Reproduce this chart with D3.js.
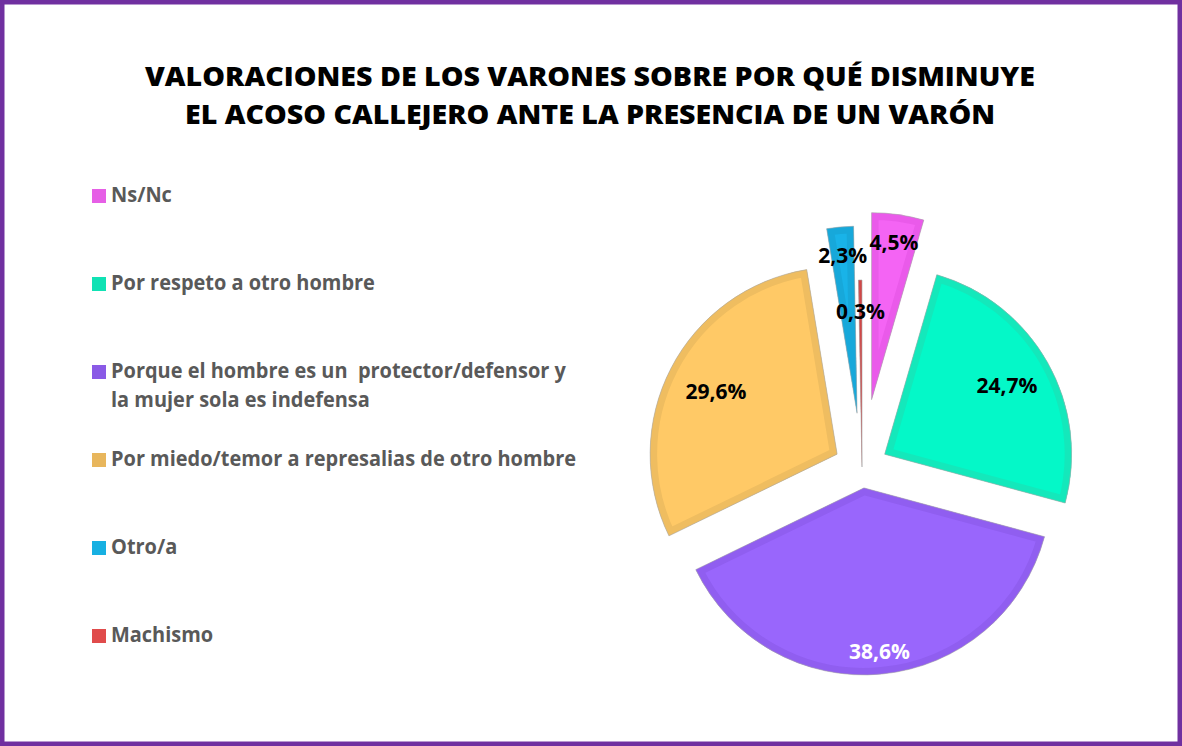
<!DOCTYPE html>
<html>
<head>
<meta charset="utf-8">
<script src="https://cdn.jsdelivr.net/npm/d3@7"></script>
<style>
  html, body { margin: 0; padding: 0; background: #fff; }
  svg { display: block; font-family: "Open Sans", "Noto Sans", sans-serif; }
</style>
</head>
<body>
<svg id="chart" width="1182" height="746"></svg>
<script>
'use strict'

// data
const titleLines = [
  "VALORACIONES DE LOS VARONES SOBRE POR QUÉ DISMINUYE",
  "EL ACOSO CALLEJERO ANTE LA PRESENCIA DE UN VARÓN"
]
const categories = [
  "Ns/Nc",
  "Por respeto a otro hombre",
  "Porque el hombre es un  protector/defensor y\nla mujer sola es indefensa",
  "Por miedo/temor a represalias de otro hombre",
  "Otro/a",
  "Machismo"
]
const values = [4.5, 24.7, 38.6, 29.6, 2.3, 0.3]

// look of each slice
const sliceColors = ["#f464f4", "#04f8c8", "#9966fc", "#ffc966", "#19b3e8", "#e05050"]
const bandColors  = ["#ea5aea", "#14e8bb", "#905ef0", "#efbd60", "#17a8da", "#d04848"]
const swatchColors = ["#e65fe6", "#10e2b4", "#8a5ae6", "#e8b65c", "#17b0e2", "#e04b4b"]
const explode = [68, 26, 21, 28, 54, 0]
const labelRatio = [0.85, 0.75, 0.88, 0.73, 0.85, 0.83]
const labelFill = ["#000", "#000", "#fff", "#000", "#000", "#000"]

const svg = d3.select("#chart")
const W = 1182, H = 746

// purple frame
svg.append("rect")
  .attr("x", 2.25).attr("y", 2.25)
  .attr("width", W - 4.5).attr("height", H - 4.5)
  .attr("fill", "#fff")
  .attr("stroke", "#7030a0")
  .attr("stroke-width", 4.5)

// title
const titleY = [86, 124]
const titleW = [890, 810]
svg.selectAll("text.title")
  .data(titleLines)
  .join("text")
  .attr("class", "title")
  .attr("x", 590)
  .attr("y", (d, i) => titleY[i])
  .attr("text-anchor", "middle")
  .attr("font-size", 26)
  .attr("font-weight", 800)
  .attr("fill", "#000")
  .attr("textLength", (d, i) => titleW[i])
  .attr("lengthAdjust", "spacingAndGlyphs")
  .text(d => d)

// legend
const legY = d3.scalePoint().domain(categories).range([202, 642])
const leg = svg.append("g")
const items = leg.selectAll("g")
  .data(categories)
  .join("g")
  .attr("transform", d => `translate(0,${legY(d)})`)

items.append("rect")
  .attr("x", 92).attr("y", -13)
  .attr("width", 14).attr("height", 14)
  .attr("fill", (d, i) => swatchColors[i])

const legK = 0.95
items.each(function (d) {
  const g = d3.select(this)
  d.split("\n").forEach((line, j) => {
    const t = g.append("text")
      .attr("x", 111)
      .attr("y", j * 29)
      .attr("font-size", 21)
      .attr("font-weight", 700)
      .attr("fill", "#595959")
      .style("white-space", "pre")
      .text(line)
    const len = t.node().getComputedTextLength()
    t.attr("textLength", len * legK).attr("lengthAdjust", "spacingAndGlyphs")
  })
})

// pie
const cx = 862, cy = 467, R = 187
const pie = d3.pie().sort(null).value(d => d)
const arcs = pie(values)
const arc = d3.arc().innerRadius(0).outerRadius(R)
const fmt = v => d3.format(".1f")(v).replace(".", ",") + "%"

const pieG = svg.append("g").attr("transform", `translate(${cx},${cy})`)
const defs = svg.append("defs")

arcs.forEach((a, i) => {
  const mid = (a.startAngle + a.endAngle) / 2
  const dx = Math.sin(mid) * explode[i]
  const dy = -Math.cos(mid) * explode[i]
  const g = pieG.append("g").attr("transform", `translate(${dx},${dy})`)

  defs.append("clipPath").attr("id", "clip" + i)
    .append("path").attr("d", arc(a))

  g.append("path")
    .attr("d", arc(a))
    .attr("fill", sliceColors[i])
  g.append("path")
    .attr("d", arc(a))
    .attr("fill", "none")
    .attr("stroke", bandColors[i])
    .attr("stroke-width", 14)
    .attr("stroke-linejoin", "round")
    .attr("clip-path", `url(#clip${i})`)
  g.append("path")
    .attr("d", arc(a))
    .attr("fill", "none")
    .attr("stroke", "#a8a8a8")
    .attr("stroke-opacity", 0.6)
    .attr("stroke-width", 1)
})

// value labels
arcs.forEach((a, i) => {
  const mid = (a.startAngle + a.endAngle) / 2
  const r = explode[i] + R * labelRatio[i]
  pieG.append("text")
    .attr("x", Math.sin(mid) * r)
    .attr("y", -Math.cos(mid) * r)
    .attr("dy", "0.36em")
    .attr("text-anchor", "middle")
    .attr("font-size", 21)
    .attr("font-weight", 700)
    .attr("fill", labelFill[i])
    .text(fmt(values[i]))
})
</script>
</body>
</html>
